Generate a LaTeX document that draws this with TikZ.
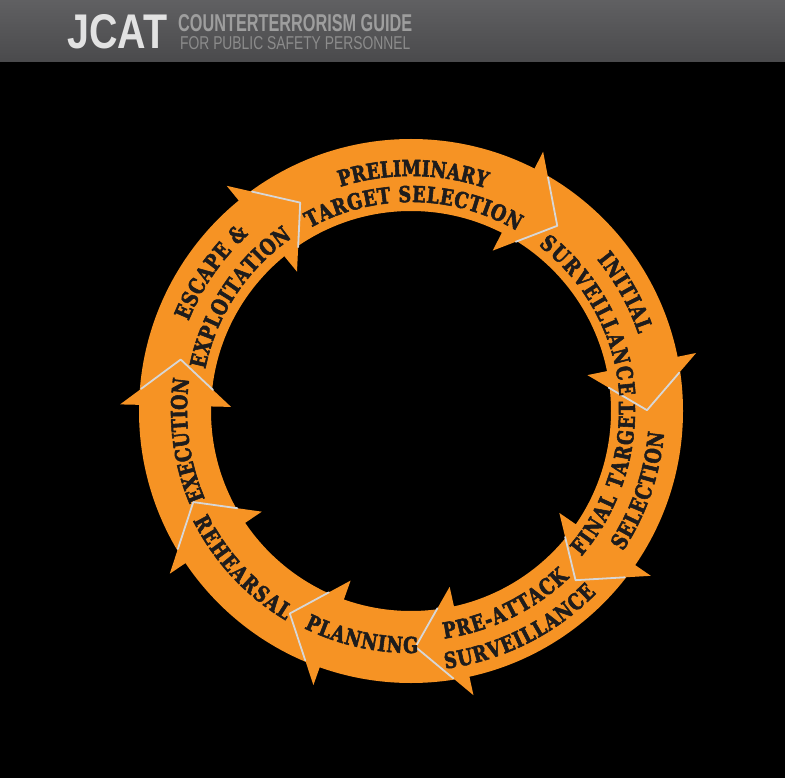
\documentclass[tikz,border=0pt]{standalone}
\usepackage{fontspec}
\usetikzlibrary{decorations.text,calc}
\newfontfamily\ringfont{DejaVu Serif}[FakeStretch=0.8, BoldFeatures={FakeBold=2.5}]
\newfontfamily\headfont{Liberation Sans}
\definecolor{ringorange}{RGB}{246,147,36}
\definecolor{ringtext}{RGB}{30,28,28}
\definecolor{notchsilver}{RGB}{215,215,215}
\definecolor{headtop}{RGB}{96,96,98}
\definecolor{headbot}{RGB}{74,74,76}
\definecolor{headlight}{RGB}{226,226,226}
\definecolor{headmid}{RGB}{158,158,158}
\definecolor{headlow}{RGB}{140,140,140}
\newcommand\rf{\ringfont\bfseries\fontsize{22pt}{26pt}\selectfont}
\newcommand\arctext[4]{%
  \path[decorate, decoration={text along path, text align=fit to path,
    text color=ringtext, text={|\rf|#4}}]
    (#1:#3pt) arc[start angle=#1, end angle=#2, radius=#3pt];}
\tikzset{
  ringfill/.style={fill=ringorange},
  notchline/.style={draw=notchsilver, line width=1.8pt, line join=round, line cap=round},
  headtext/.style={anchor=south west, inner sep=0pt}
}
\begin{document}
\begin{tikzpicture}[x=1pt,y=1pt]
\useasboundingbox (0,0) rectangle (785,-778);
\fill[black] (0,0) rectangle (785,-778);
% header bar
\shade[top color=headtop, bottom color=headbot] (0,0) rectangle (785,-62);
\node[headtext, text=headlight] (jcat) at (67,-49) {\resizebox{100pt}{34pt}{\headfont\bfseries JCAT}};
\node[headtext, text=headmid] (guide) at (178,-32) {\resizebox{234pt}{17pt}{\headfont\bfseries COUNTERTERRORISM GUIDE}};
\node[headtext, text=headlow] (personnel) at (180,-50) {\resizebox{230pt}{13pt}{\headfont FOR PUBLIC SAFETY PERSONNEL}};
% ring
\begin{scope}[shift={(411,-411)}]
  \fill[ringfill, even odd rule] (0,0) circle (272pt) (0,0) circle (200pt);
  \foreach \B in {129.3,63,11.5,-34.5,-77.6,-109.6,-146,178.7}{
    \fill[ringfill] (\B:291pt) -- (\B-11.3:236pt) -- (\B:180pt) -- cycle;
  }
  \foreach \B in {129.3,63,11.5,-34.5,-77.6,-109.6,-146,178.7}{
    \draw[notchline] ($(\B:291pt)!0.345!(\B-11.3:236pt)$) -- (\B-11.3:236pt)
      -- ($(\B:180pt)!0.357!(\B-11.3:236pt)$);
  }
  % top half: clockwise, tops outward
  \arctext{107.5}{71.5}{235}{PRELIMINARY}
  \arctext{119}{59.5}{209}{TARGET SELECTION}
  \arctext{39.2}{18.7}{240}{INITIAL}
  \arctext{52.4}{4.1}{209}{SURVEILLANCE}
  \arctext{158}{132.6}{240}{ESCAPE {\&}}
  \arctext{168.5}{124.5}{210}{EXPLOITATION}
  \arctext{203.1}{171.8}{224}{EXECUTION}
  % bottom half: counterclockwise, tops inward
  \arctext{-40.5}{2.4}{224}{FINAL TARGET}
  \arctext{-33.5}{-4.9}{254}{SELECTION}
  \arctext{-81.7}{-46.5}{230}{PRE-ATTACK}
  \arctext{-82.4}{-44.5}{260}{SURVEILLANCE}
  \arctext{-116.2}{-88.3}{242}{PLANNING}
  \arctext{-153.3}{-120.9}{244}{REHEARSAL}
\end{scope}
\end{tikzpicture}
\end{document}
